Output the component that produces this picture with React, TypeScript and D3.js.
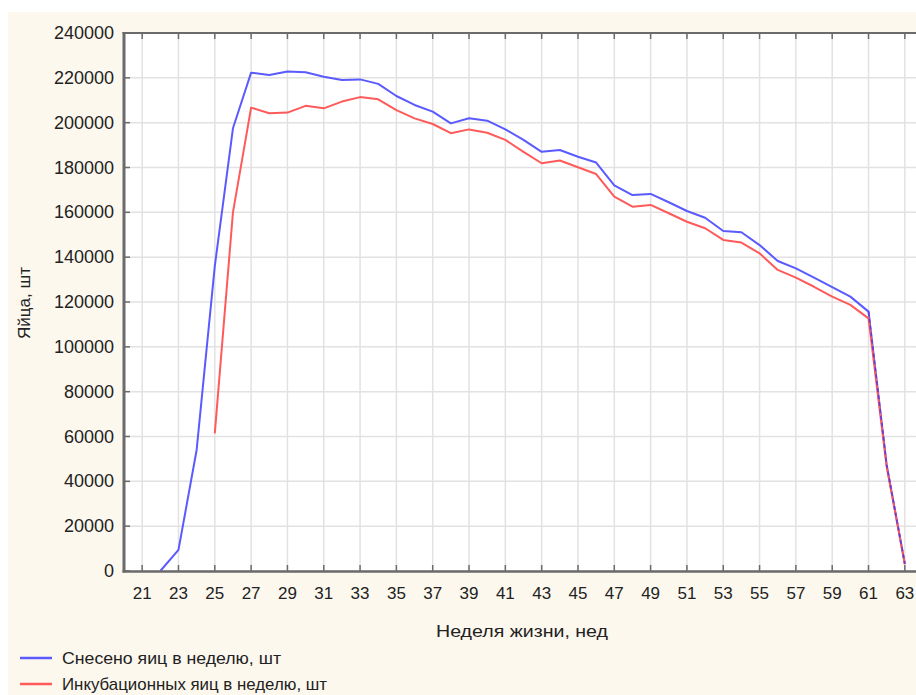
import React from "react";
import * as d3 from "d3";

const weeks = [22,23,24,25,26,27,28,29,30,31,32,33,34,35,36,37,38,39,40,41,42,43,44,45,46,47,48,49,50,51,52,53,54,55,56,57,58,59,60,61,62,63];
const laid = [0,9400,54000,136000,197500,222300,221300,222800,222500,220500,219000,219300,217300,211900,207900,204900,199700,202000,200900,197000,192300,187000,187800,184800,182200,172000,167700,168200,164500,160600,157600,151700,151100,145400,138300,135000,130900,126600,122400,115700,47300,3200];
const hatchWeeks = [25,26,27,28,29,30,31,32,33,34,35,36,37,38,39,40,41,42,43,44,45,46,47,48,49,50,51,52,53,54,55,56,57,58,59,60,61,62,63];
const hatching = [61400,160000,206700,204200,204500,207500,206400,209400,211400,210400,205600,201900,199400,195300,197000,195500,192300,187000,181900,183100,180100,177100,167000,162500,163300,159600,155800,152900,147700,146500,141700,134300,130900,126800,122400,118700,112700,46500,3000];
const xTicks = [21,23,25,27,29,31,33,35,37,39,41,43,45,47,49,51,53,55,57,59,61,63];
const yTicks = [0,20000,40000,60000,80000,100000,120000,140000,160000,180000,200000,220000,240000];
const seriesNames = ["Снесено яиц в неделю, шт", "Инкубационных яиц в неделю, шт"];

const W = 916, H = 695;
const font = "'Liberation Sans', Arial, sans-serif";

export default function App() {
  const x = d3.scaleLinear().domain([20, 64]).range([124, 923]);
  const y = d3.scaleLinear().domain([0, 240000]).range([571, 33]);
  const line = d3.line<[number, number]>().x(d => x(d[0])).y(d => y(d[1]));
  const blueD = line(weeks.map((w, i) => [w, laid[i]]));
  const redD = line(hatchWeeks.map((w, i) => [w, hatching[i]]));
  const blue = "#5a5aff";
  const red = "#ff5a5a";
  const axisCol = "#6b6b6b";
  return (
    <svg width={W} height={H} style={{ position: "absolute", left: 0, top: 0, display: "block" }}>
      <rect x={0} y={0} width={W} height={H} fill="#ffffff" />
      <rect x={8} y={12} width={W - 8} height={H - 12} fill="#fdf8ee" />
      <rect x={124} y={33} width={W - 124} height={538} fill="#ffffff" />
      {yTicks.map(t => (
        <line key={"gy" + t} x1={124} x2={W} y1={y(t)} y2={y(t)} stroke="#e2e2e2" strokeWidth={1.5} />
      ))}
      {xTicks.map(t => (
        <line key={"gx" + t} x1={x(t)} x2={x(t)} y1={33} y2={571} stroke="#e2e2e2" strokeWidth={1.5} />
      ))}
      <path d={blueD || ""} fill="none" stroke={blue} strokeWidth={2} strokeLinejoin="round" />
      <path d={redD || ""} fill="none" stroke={red} strokeWidth={2} strokeLinejoin="round" />
      <path d={line(weeks.slice(-3).map((w, i) => [w, laid[laid.length - 3 + i]])) || ""} fill="none" stroke="#6a3ad0" strokeWidth={1.6} strokeDasharray="4 3" />
      {/* axes frame */}
      <line x1={124} x2={124} y1={32} y2={572.5} stroke={axisCol} strokeWidth={3} />
      <line x1={122.5} x2={W} y1={571.5} y2={571.5} stroke={axisCol} strokeWidth={2.5} />
      <line x1={122.5} x2={W} y1={33} y2={33} stroke={axisCol} strokeWidth={2} />
      {yTicks.map(t => (
        <g key={"ty" + t}>
          <line x1={124} x2={130} y1={y(t)} y2={y(t)} stroke={axisCol} strokeWidth={1.5} />
          <text x={114} y={y(t)} textAnchor="end" dominantBaseline="central" fontFamily={font} fontSize={18} fill="#222">{t}</text>
        </g>
      ))}
      {xTicks.map(t => (
        <g key={"tx" + t}>
          <line x1={x(t)} x2={x(t)} y1={571} y2={565} stroke={axisCol} strokeWidth={1.5} />
          <line x1={x(t)} x2={x(t)} y1={33} y2={39} stroke={axisCol} strokeWidth={1.5} />
          <text x={x(t)} y={593} textAnchor="middle" dominantBaseline="central" fontFamily={font} fontSize={17} fill="#222">{t}</text>
        </g>
      ))}
      <text x={522} y={631} textAnchor="middle" dominantBaseline="central" fontFamily={font} fontSize={17} fill="#222" textLength={172} lengthAdjust="spacingAndGlyphs">Неделя жизни, нед</text>
      <text transform="translate(24,303) rotate(-90)" textAnchor="middle" dominantBaseline="central" fontFamily={font} fontSize={17} fill="#222">Яйца, шт</text>
      <line x1={20} x2={52} y1={658} y2={658} stroke={blue} strokeWidth={2.5} />
      <text x={62} y={658} dominantBaseline="central" fontFamily={font} fontSize={17} fill="#222" textLength={219} lengthAdjust="spacingAndGlyphs">{seriesNames[0]}</text>
      <line x1={20} x2={52} y1={684} y2={684} stroke={red} strokeWidth={2.5} />
      <text x={62} y={684} dominantBaseline="central" fontFamily={font} fontSize={17} fill="#222" textLength={265} lengthAdjust="spacingAndGlyphs">{seriesNames[1]}</text>
    </svg>
  );
}
